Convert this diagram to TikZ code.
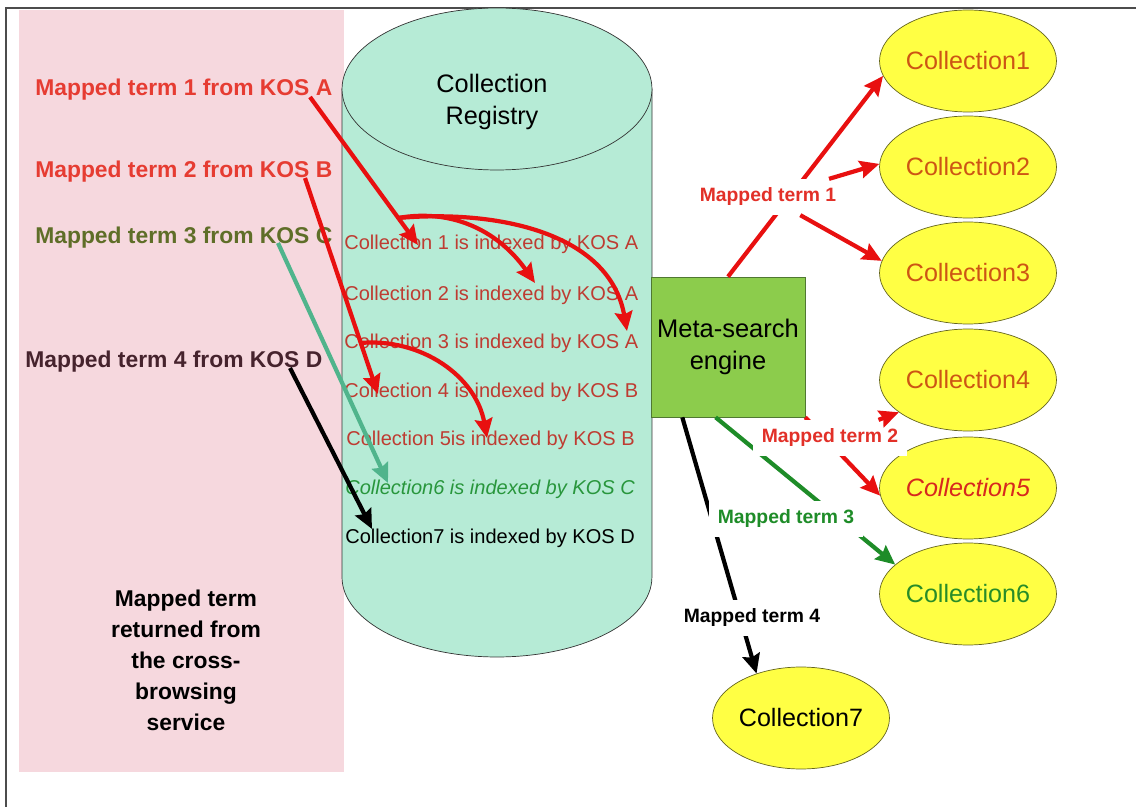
\documentclass[tikz,border=0pt]{standalone}
\usepackage{fontspec}
\setmainfont{Liberation Sans}
\usetikzlibrary{arrows.meta,shapes.geometric}

\definecolor{pinkbg}{RGB}{246,216,222}
\definecolor{cylfill}{RGB}{182,235,214}
\definecolor{metafill}{RGB}{140,204,76}
\definecolor{metaline}{RGB}{80,120,50}
\definecolor{collfill}{RGB}{255,255,68}
\definecolor{collline}{RGB}{100,100,30}
\definecolor{arrred}{RGB}{232,16,16}
\definecolor{lblred}{RGB}{226,48,40}
\definecolor{termred}{RGB}{230,60,50}
\definecolor{termolive}{RGB}{95,110,40}
\definecolor{termdark}{RGB}{70,35,45}
\definecolor{rowred}{RGB}{190,60,50}
\definecolor{rowgreen}{RGB}{40,150,60}
\definecolor{collorange}{RGB}{205,85,20}
\definecolor{collred}{RGB}{215,40,30}
\definecolor{collgreen}{RGB}{40,140,40}
\definecolor{arrgreen}{RGB}{30,140,40}
\definecolor{arrteal}{RGB}{80,180,140}

\tikzset{
  >={Stealth[length=11pt,width=10pt,inset=1.5pt]},
  fat/.style={line width=2.4pt},
  termtxt/.style={anchor=west,inner sep=0pt,font=\bfseries\fontsize{13}{15}\selectfont},
  rowtxt/.style={anchor=west,inner sep=0pt,text=rowred,font=\fontsize{11.4}{13}\selectfont},
  coll/.style={ellipse,draw=collline,fill=collfill,minimum width=3.54cm,minimum height=2.04cm,
    inner sep=0pt,text=collorange,font=\fontsize{14.3}{16}\selectfont},
  maplbl/.style={fill=white,inner xsep=5pt,inner ysep=5pt,font=\bfseries\fontsize{11}{13}\selectfont},
}

\begin{document}
\begin{tikzpicture}[x=0.02cm,y=-0.02cm]
\useasboundingbox (0,0) rectangle (1136,807);
\draw[gray!60!black,semithick] (6,807)--(6,8)--(1136,8);%frame
\fill[pinkbg] (19,10) rectangle (344,772);%returned terms band

% registry cylinder
\filldraw[fill=cylfill,draw=gray!40!black,thin] (342,89) -- (342,577)
  arc[start angle=180,end angle=360,x radius=3.1cm,y radius=1.6cm] -- (652,89) -- cycle;
\filldraw[fill=cylfill,draw=gray!40!black,thin] (497,89) ellipse[x radius=3.1cm,y radius=1.62cm];
\node[align=center,font=\fontsize{14.4}{18.2}\selectfont] (reg) at (492,102) {Collection\\Registry};

\node[rowtxt] (r1) at (344,244) {Collection 1 is indexed by KOS A};
\node[rowtxt] (r2) at (344,295) {Collection 2 is indexed by KOS A};
\node[rowtxt] (r3) at (344,343) {Collection 3 is indexed by KOS A};
\node[rowtxt] (r4) at (344,392) {Collection 4 is indexed by KOS B};
\node[rowtxt] (r5) at (346,440) {Collection 5is indexed by KOS B};
\node[rowtxt,text=rowgreen,font=\itshape\fontsize{11.4}{13}\selectfont] (r6) at (345,489) {Collection6 is indexed by KOS C};
\node[rowtxt,text=black] (r7) at (345,538) {Collection7 is indexed by KOS D};

% terms from the cross-browsing service
\node[termtxt,text=termred] (t1) at (35,90) {Mapped term 1 from KOS A};
\node[termtxt,text=termred] (t2) at (35,172) {Mapped term 2 from KOS B};
\node[termtxt,text=termolive] (t3) at (35,238) {Mapped term 3 from KOS C};
\node[termtxt,text=termdark] (t4) at (25,362) {Mapped term 4 from KOS D};
\node[align=center,font=\bfseries\fontsize{13}{17.6}\selectfont] (ret) at (186,660)
  {Mapped term\\returned from\\the cross-\\browsing\\service};

% meta-search engine and collections
\node[draw=metaline,fill=metafill,minimum width=3.08cm,minimum height=2.8cm,align=center,
  font=\fontsize{14.5}{18.2}\selectfont] (meta) at (728,347) {Meta-search\\engine};
\node[coll] (c1) at (968,61) {Collection1};
\node[coll] (c2) at (968,167) {Collection2};
\node[coll] (c3) at (968,273) {Collection3};
\node[coll] (c4) at (968,380) {Collection4};
\node[coll,text=collred,font=\itshape\fontsize{14.3}{16}\selectfont] (c5) at (968,488) {Collection5};
\node[coll,text=collgreen] (c6) at (968,594) {Collection6};
\node[coll,text=black] (c7) at (801,718) {Collection7};

\draw[fat,->,color=arrred] (meta.north) -- (c1.190);
\draw[fat,->,color=arrred] (meta.south east) -- (c5.185);
\draw[fat,->,color=arrgreen] (meta.-100) -- (c6.158);
\draw[fat,->] (meta.-123) -- (c7.135);
\node[maplbl,text=lblred] (mt1) at (768,197) {Mapped term 1};
\node[maplbl,text=lblred] (mt2) at (830,438) {Mapped term 2};
\node[maplbl,text=arrgreen] (mt3) at (786,519) {Mapped term 3};
\node[maplbl] (mt4) at (752,618) {Mapped term 4};
\draw[fat,->,color=arrred] (mt1) -- (c2.178);
\draw[fat,->,color=arrred] (mt1) -- (c3.172);
\draw[fat,->,color=arrred] (mt2) -- (c4.205);

% terms looked up in the registry
\coordinate (k1) at (310,97);
\coordinate (k2) at (305,178);
\coordinate (k3) at (278,243);
\coordinate (k4) at (290,368);
\coordinate (j1) at (398,218);
\coordinate (j2) at (360,343);
\coordinate (p1) at (418,245);
\coordinate (p2) at (535,283);
\coordinate (p3) at (627,331);
\coordinate (p4) at (378,394);
\coordinate (p5) at (487,438);
\coordinate (p6) at (388,483);
\coordinate (p7) at (372,529);
\draw[fat,->,color=arrred] (k1) -- (p1);
\draw[fat,->,color=arrred] (j1) to[out=10,in=125] (p2);
\draw[fat,->,color=arrred] (j1) to[out=5,in=100] (p3);
\draw[fat,->,color=arrred] (k2) -- (p4);
\draw[fat,->,color=arrred] (j2) to[out=5,in=100] (p5);
\draw[fat,->,color=arrteal] (k3) -- (p6);
\draw[fat,->] (k4) -- (p7);
\end{tikzpicture}
\end{document}
